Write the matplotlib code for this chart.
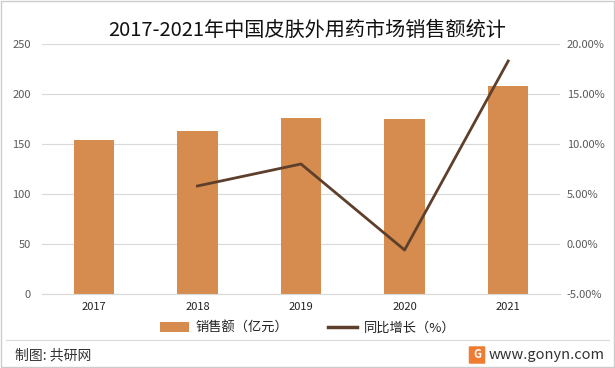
import matplotlib.pyplot as plt
from matplotlib.lines import Line2D
from matplotlib.patches import Patch, Rectangle, FancyBboxPatch

plt.rcParams['font.family'] = ['Noto Sans CJK SC', 'DejaVu Sans']

# data
years = ['2017', '2018', '2019', '2020', '2021']
sales = [154, 163, 176, 175, 208]          # 亿元
growth_years = ['2018', '2019', '2020', '2021']
growth = [5.8, 8.0, -0.6, 18.3]            # %

bar_color = '#D58C4E'
line_color = '#5E3F2B'
text_color = '#595959'

fig = plt.figure(figsize=(6.15, 3.68), dpi=100)
ax = fig.add_axes([42 / 615, 74 / 368, 518 / 615, 250 / 368])

x = list(range(len(years)))
ax.bar(x, sales, width=0.39, color=bar_color, zorder=2)
ax.set_ylim(0, 250)
ax.set_yticks([0, 50, 100, 150, 200, 250])
ax.set_xlim(-0.5, len(years) - 0.5)
ax.set_xticks(x)
ax.set_xticklabels(years)
ax.grid(axis='y', color='#D9D9D9', linewidth=0.8, zorder=0)
for s in ['top', 'right', 'left']:
    ax.spines[s].set_visible(False)
ax.spines['bottom'].set_color('#D9D9D9')
ax.tick_params(axis='both', length=0, labelsize=8, colors=text_color)
ax.tick_params(axis='y', pad=8)
ax.tick_params(axis='x', pad=6)
for lab in ax.get_xticklabels():
    lab.set_color('#222222')

ax2 = ax.twinx()
gx = [years.index(y) for y in growth_years]
ax2.plot(gx, growth, color=line_color, linewidth=2, zorder=3)
ax2.set_ylim(-5, 20)
ax2.set_yticks([-5, 0, 5, 10, 15, 20])
ax2.set_yticklabels(['{:.2f}%'.format(v) for v in [-5, 0, 5, 10, 15, 20]])
for s in ax2.spines.values():
    s.set_visible(False)
ax2.tick_params(axis='y', length=0, labelsize=8, colors=text_color, pad=5)

fig.text(0.5, 1 - 30 / 368, '2017-2021年中国皮肤外用药市场销售额统计',
         ha='center', va='center', fontsize=14.5, color='#111111')

handles = [Patch(facecolor=bar_color), Line2D([0], [0], color=line_color, linewidth=2.5)]
fig.legend(handles, ['销售额（亿元）', '同比增长（%）'], loc='center',
           bbox_to_anchor=(0.5, 1 - 328 / 368), ncol=2, frameon=False,
           fontsize=9.5, handlelength=2.2, columnspacing=3, handletextpad=0.5,
           labelcolor='#222222')

# footer
fig.add_artist(Line2D([6 / 615, 609 / 615], [1 - 340 / 368] * 2,
                      color='#D9D9D9', linewidth=0.8, transform=fig.transFigure))
fig.text(15 / 615, 1 - 355 / 368, '制图: 共研网', fontsize=10, va='center',
         color='#333333')
fig.add_artist(FancyBboxPatch((470 / 615, 1 - 363 / 368), 14 / 615, 16 / 368,
                              boxstyle='round,pad=0.002', facecolor='#EE7D31',
                              edgecolor='none', transform=fig.transFigure))
fig.text(477 / 615, 1 - 355 / 368, 'G', fontsize=8, fontweight='bold',
         color='white', ha='center', va='center')
fig.text(605 / 615, 1 - 355 / 368, 'www.gonyn.com', fontsize=10.5, va='center',
         ha='right', color='#333333')

fig.add_artist(Rectangle((0.002, 0.003), 0.996, 0.994, fill=False,
                         edgecolor='#CCCCCC', linewidth=1, transform=fig.transFigure))

fig.savefig('out.png', dpi=100)
